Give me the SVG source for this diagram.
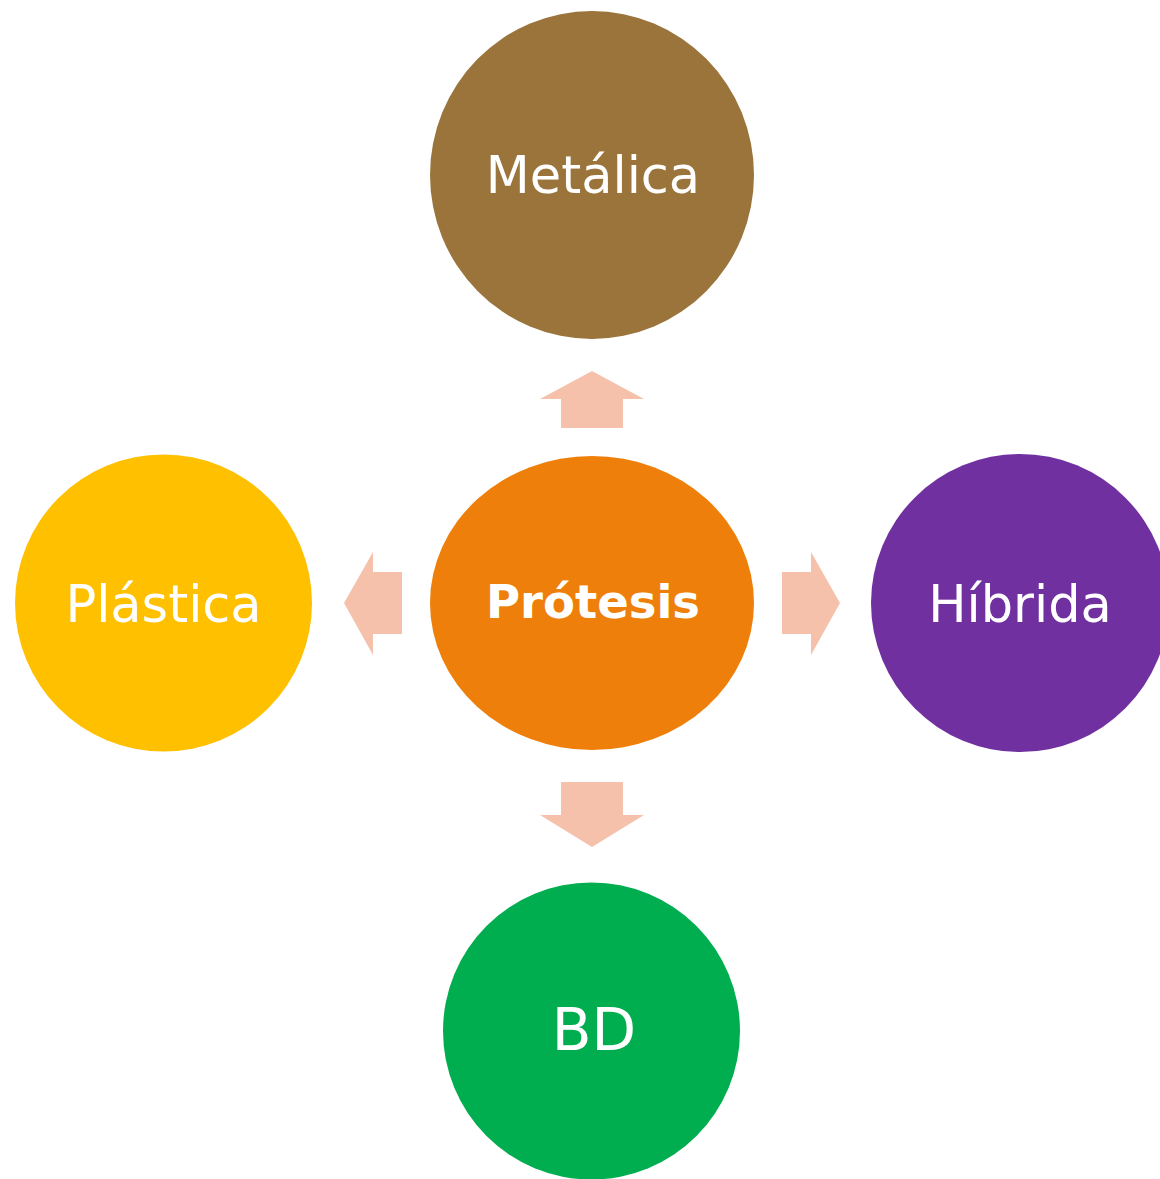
<svg xmlns="http://www.w3.org/2000/svg" width="1160" height="1179" viewBox="0 0 1160 1179">
  <style>
    .lbl { font-family: "DejaVu Sans", Verdana, sans-serif; fill: #ffffff; text-anchor: middle; font-size: 51px; }
    .hub { font-weight: bold; font-size: 46.5px; }
    .arrow { fill: #F6C1AB; }
  </style>
  <rect width="1160" height="1179" fill="#ffffff"/>

  <g id="connectors">
    <!-- up -->
    <polygon class="arrow" points="592,371 644,399 623,399 623,428 561,428 561,399 540,399"/>
    <!-- left -->
    <polygon class="arrow" points="344,603 373,552 373,572 402,572 402,634 373,634 373,655"/>
    <!-- right -->
    <polygon class="arrow" points="840,603 811,552 811,572 782,572 782,634 811,634 811,655"/>
    <!-- down -->
    <polygon class="arrow" points="592,847 644,815 623,815 623,782 561,782 561,815 540,815"/>
  </g>

  <g id="node-metalica">
    <ellipse cx="592" cy="175" rx="162" ry="164" fill="#9A743B"/>
    <text class="lbl" x="593" y="193">Metálica</text>
  </g>

  <g id="node-protesis">
    <ellipse cx="592" cy="603" rx="162" ry="147" fill="#EF7F0B"/>
    <text class="lbl hub" x="593" y="618">Prótesis</text>
  </g>

  <g id="node-plastica">
    <circle cx="163.5" cy="603" r="148.5" fill="#FFC000"/>
    <text class="lbl" x="163.5" y="622">Plástica</text>
  </g>

  <g id="node-hibrida">
    <circle cx="1020" cy="603" r="149" fill="#7030A0"/>
    <text class="lbl" x="1020" y="622">Híbrida</text>
  </g>

  <g id="node-bd">
    <circle cx="591.5" cy="1031" r="148.5" fill="#00AE4F"/>
    <text class="lbl" x="594" y="1050" style="font-size:58px">BD</text>
  </g>
</svg>
